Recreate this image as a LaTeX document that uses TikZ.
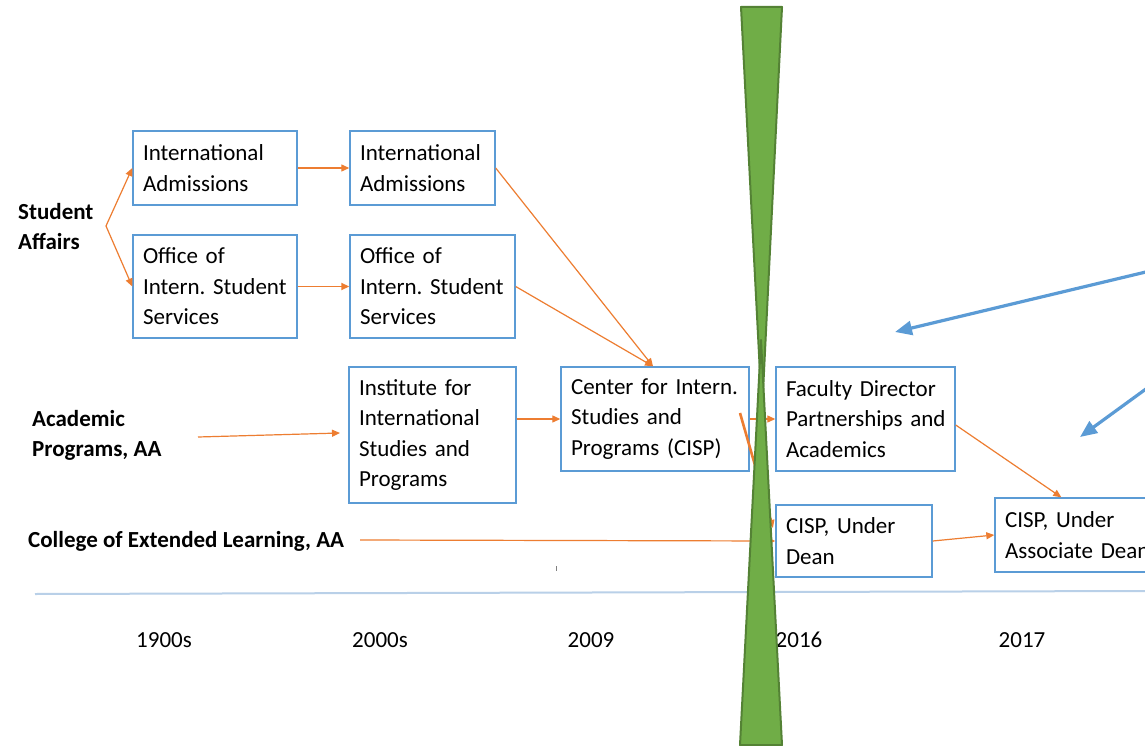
\documentclass[tikz,border=0pt]{standalone}
\usepackage{fontspec}
\setmainfont{Carlito}
\usetikzlibrary{arrows.meta,calc}
\definecolor{boxblue}{HTML}{5B9BD5}
\definecolor{orng}{HTML}{ED7D31}
\definecolor{grn}{HTML}{70AD47}
\definecolor{dgrn}{HTML}{548235}
\definecolor{tline}{RGB}{185,208,232}
\tikzset{
  box/.style={draw=boxblue, line width=1.4pt, align=left, inner sep=0pt,
    font=\fontsize{23}{30.5}\selectfont},
  lbl/.style={align=left, inner sep=0pt, anchor=west,
    font=\fontsize{23}{30}\selectfont\bfseries},
  yr/.style={inner sep=0pt, font=\fontsize{23}{28}\selectfont},
  oarr/.style={draw=orng, line width=1.2pt, -{Triangle[length=8pt,width=7pt]}},
  barr/.style={draw=boxblue, line width=3.2pt, -{Triangle[length=17pt,width=14pt]}},
  hg/.style={fill=grn, draw=dgrn, line width=2pt, line join=round}
}
\begin{document}
\begin{tikzpicture}[x=1pt,y=-1pt]
\clip (0,0) rectangle (1145,746);
\fill[white] (0,0) rectangle (1145,746);

% boxes
\node[box, minimum width=164, minimum height=74, text width=144] (ia1) at (215,168) {International\\Admissions};
\node[box, minimum width=145, minimum height=74, text width=125] (ia2) at (422.5,168) {International\\Admissions};
\node[box, minimum width=164, minimum height=103, text width=144] (oiss1) at (215,286.5) {Office~of\\Intern.~Student\\Services};
\node[box, minimum width=165, minimum height=103, text width=145] (oiss2) at (432.5,286.5) {Office~of\\Intern.~Student\\Services};
\node[box, minimum width=167, minimum height=136, text width=147] (inst) at (432.5,435) {Institute~for\\International\\Studies~and\\Programs};
\node[box, minimum width=188, minimum height=104, text width=168] (cisp) at (655,419) {Center~for~Intern.\\Studies~and\\Programs~(CISP)};
\node[box, minimum width=179, minimum height=104, text width=159] (fac) at (865.5,419) {Faculty~Director\\Partnerships~and\\Academics};
\node[box, minimum width=156, minimum height=72, text width=136] (dean) at (854,541) {CISP,~Under\\Dean};
\node[box, minimum width=175, minimum height=74, text width=155] (assoc) at (1082.5,535) {CISP,~Under\\Associate~Dean};

% row labels
\node[lbl] (sa) at (18,227) {Student\\Affairs};
\node[lbl] (ap) at (32,435) {Academic\\Programs, AA};
\node[lbl] (cel) at (28,541) {College of Extended Learning, AA};

% timeline
\coordinate (tl0) at (35,594);
\coordinate (tl1) at (1145,591);
\draw[tline, line width=2pt] (tl0) -- (tl1);
\coordinate (tk0) at (556,566);
\coordinate (tk1) at (556,571);
\draw[gray, line width=0.8pt] (tk0) -- (tk1);
\node[yr] (y1) at (164,640) {1900s};
\node[yr] (y2) at (380,640) {2000s};
\node[yr] (y3) at (591,640) {2009};
\node[yr] (y4) at (799,640) {2016};
\node[yr] (y5) at (1022,640) {2017};

% orange connectors
\coordinate (fork) at (106,226);
\draw[oarr] (fork) -- (ia1.west);
\draw[oarr] (fork) -- (oiss1.west);
\draw[oarr] (ia1.east) -- (ia2.west);
\draw[oarr, line width=1.8pt] (oiss1.east) -- (oiss2.west);
\coordinate (cispin) at ($(cisp.north)+(-2,0)$);
\draw[oarr] (ia2.east) -- (cispin);
\draw[oarr] (oiss2.east) -- (cispin);
\coordinate (aps) at (198,437);
\coordinate (ape) at (340,433);
\draw[oarr] (aps) -- (ape);
\draw[oarr] (cisp.west -| inst.east) -- (cisp.west);
\draw[oarr] (cisp.east) -- (fac.west);
\coordinate (facs) at ($(fac.east)+(0,6)$);
\coordinate (associn) at ($(assoc.north west)+(67,0)$);
\draw[oarr] (facs) -- (associn);
\coordinate (cels) at (360,540);
\draw[oarr] (cels) -- (dean.west);
\draw[oarr] (dean.east) -- (assoc.west);
\coordinate (ths) at (740,413);
\coordinate (the) at (773,528);
\draw[oarr, line width=2.6pt] (ths) -- (the);

% blue arrows
\coordinate (b1s) at (1150,271);
\coordinate (b1e) at (895,332);
\coordinate (b2s) at (1150,386);
\coordinate (b2e) at (1080,437);
\draw[barr] (b1s) -- (b1e);
\draw[barr] (b2s) -- (b2e);

% green hourglass
\filldraw[hg] (741,7) -- (782,7) -- (762,412) -- cycle;
\filldraw[hg] (740,745) -- (782,745) -- (761,340) -- cycle;
\end{tikzpicture}
\end{document}
